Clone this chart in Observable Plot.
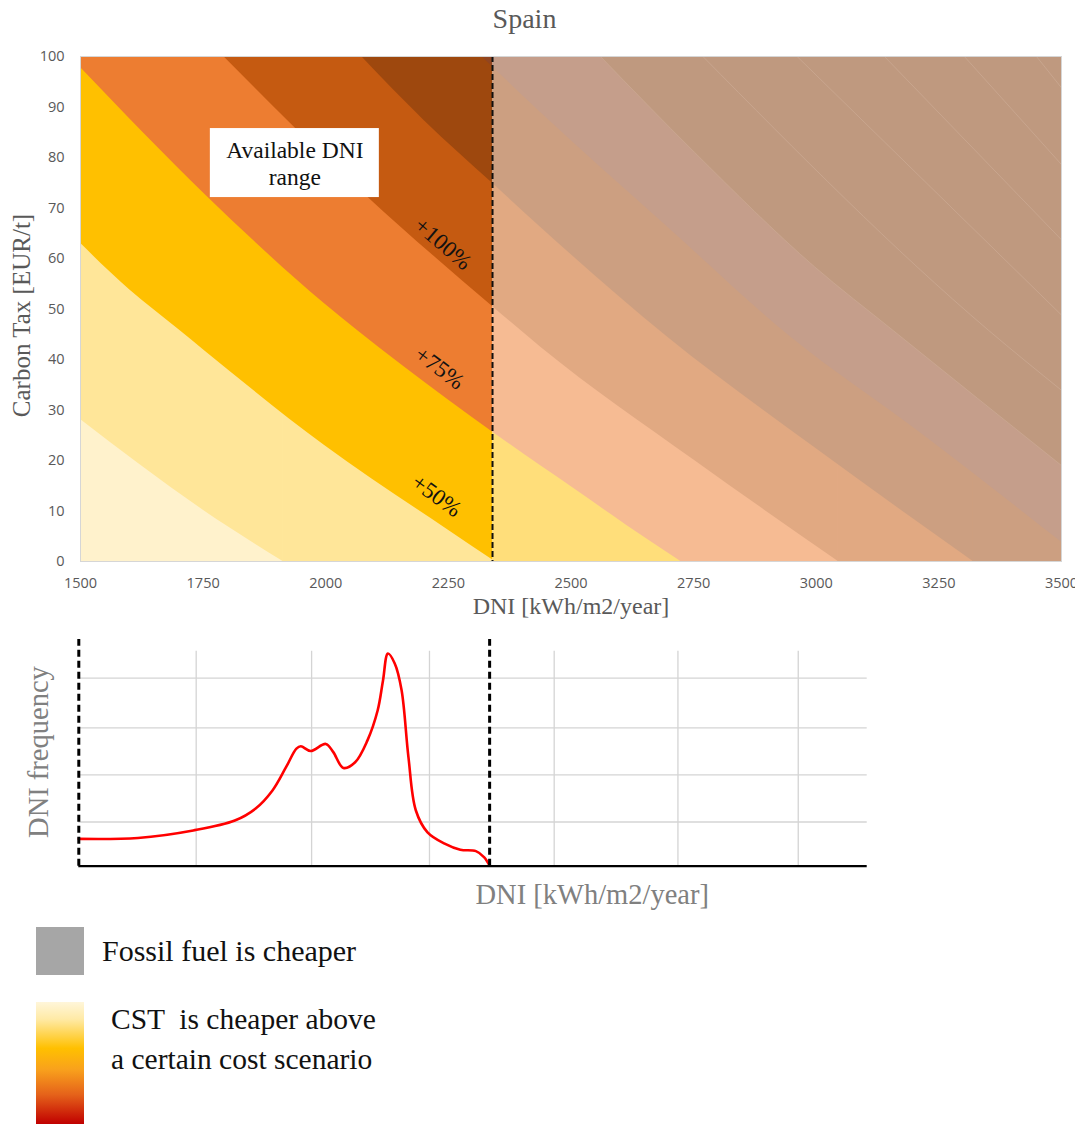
<!DOCTYPE html>
<html>
<head>
<meta charset="utf-8">
<script src="https://cdn.jsdelivr.net/npm/d3@7"></script>
<script src="https://cdn.jsdelivr.net/npm/@observablehq/plot@0.6"></script>
<style>
  body { margin: 0; background: #fff; }
  #wrap { position: relative; width: 1075px; height: 1124px; overflow: hidden; }
  #top { position: absolute; left: 0; top: 0; }
  #bottom { position: absolute; left: 0; top: 620px; }
  .leg { position: absolute; font-family: "Liberation Serif", "Times New Roman", serif; color: #111; white-space: pre; line-height: 1; }
</style>
</head>
<body>
<div id="wrap">
  <div id="top"></div>
  <div id="bottom"></div>
</div>
<script>
// ---------------- DATA ----------------
const chartTitle = "Spain";
const xAxisLabel = "DNI [kWh/m2/year]";
const yAxisLabel = "Carbon Tax [EUR/t]";
const xTicks = [1500, 1750, 2000, 2250, 2500, 2750, 3000, 3250, 3500];
const yTicks = [0, 10, 20, 30, 40, 50, 60, 70, 80, 90, 100];
const availableDNIMax = 2340;   // upper end of the available DNI range in Spain
const availableLabel = "Available DNI\nrange";
const availableLabelAt = [1937, 78.9];

// iso-lines [DNI, carbon tax] separating cost-scenario bands (lower-left to upper-right)
const level1 = [[1500, 28.1], [1618, 19.4], [1751, 10.1], [1913, 0]];
const level2 = [[1500, 63], [1600, 53.8], [1702, 45.8], [1751, 41.9], [1997, 23], [2250, 6.2], [2345, 0]];
const level3 = [[1500, 97.8], [1758, 72.3], [1997, 51.1], [2064, 45.8], [2250, 32.0], [2342, 25.5], [2439, 18.9], [2508, 14.3], [2613, 7.2], [2724, 0]];
const level4 = [[1792, 100], [1934, 86.2], [2082, 72.5], [2340, 50.5], [2439, 42.4], [2752, 20.0], [3045, 0]];
const level5 = [[2073, 100], [2201, 87.3], [2340, 74.9], [2439, 66.1], [2696, 44.5], [2996, 22.6], [3320, 0]];
const level6 = [[2318, 100], [2439, 88.8], [2696, 66.3], [2947, 44.5], [3205, 26], [3500, 3.8]];
const level7 = [[2560, 100], [2752, 81], [2996, 58.4], [3156, 45.8], [3500, 19]];
const level8 = [[2769, 100], [3351, 45.8], [3500, 33.9]];
const level9 = [[2961, 100], [3500, 48.8]];
const level10 = [[3139, 100], [3500, 63.7]];
const level11 = [[3302, 100], [3500, 78.6]];
const level12 = [[3449, 100], [3500, 93.8]];

const scenarioLabels = ["+100%", "+75%", "+50%"];
const scenarioDNI = [2239, 2232, 2226];
const scenarioTax = [62.9, 38.3, 13.0];

// DNI frequency distribution (relative units)
const freqAxisLabel = "DNI frequency";
const freqDNI = [1500, 1621, 1734, 1819, 1861, 1896, 1924, 1945, 1954, 1974, 2005, 2020, 2041, 2065, 2090, 2111, 2122, 2132, 2146, 2160, 2174, 2189, 2213, 2248, 2280, 2312, 2329, 2340];
const freqValue = [0.58, 0.60, 0.76, 0.97, 1.22, 1.61, 2.11, 2.50, 2.55, 2.45, 2.60, 2.43, 2.09, 2.21, 2.67, 3.31, 3.95, 4.52, 4.31, 3.74, 2.32, 1.19, 0.72, 0.48, 0.35, 0.32, 0.19, 0.01];
const freqGridX = [1740, 1976, 2217, 2472, 2725, 2971];
const freqGridY = [0.94, 1.94, 2.94, 4.0];
const freqDomainX = [1500, 3112];
const freqDomainY = [0, 4.82];

const legendItems = ["Fossil fuel is cheaper", "CST  is cheaper above\na certain cost scenario"];

// ---------------- BUILD ----------------
const SERIF = "'Liberation Serif', 'Times New Roman', serif";
const X_MAX = xTicks[xTicks.length - 1];
const levels = [level1, level2, level3, level4, level5, level6, level7, level8, level9, level10, level11, level12];
const bandFills = ["#FFE699", "#FFC000", "#ED7D31", "#C55A11", "#9E480E", "#914521", "#853D0B", "#853D0B", "#853D0B", "#853D0B", "#853D0B", "#853D0B"];
const toRows = (arr) => arr.map(([dni, tax]) => ({dni, tax}));

const bandMarks = [];
levels.forEach((lv, i) => {
  bandMarks.push(Plot.areaY(toRows(lv), {x: "dni", y1: "tax", y2: 100, fill: bandFills[i], curve: "monotone-x", clip: true}));
  const last = lv[lv.length - 1];
  if (last[1] === 0 && last[0] < X_MAX) {
    // the band covers everything to the right of where its iso-line meets the x-axis
    bandMarks.push(Plot.rect([{x1: last[0] - 1, x2: X_MAX}], {x1: "x1", x2: "x2", y1: 0, y2: 100, fill: bandFills[i], clip: true}));
  }
});
const seamMarks = levels.slice(6).map(lv =>
  Plot.line(toRows(lv), {x: "dni", y: "tax", stroke: "#CAA892", strokeWidth: 0.8, curve: "monotone-x", clip: true})
);

const labelRows = scenarioLabels.map((t, i) => ({t, dni: scenarioDNI[i], tax: scenarioTax[i]}));
const labelRot = [40.5, 37, 36];

function boxMark(w, h) {
  return (index, scales) => {
    const cx = scales.x(availableLabelAt[0]), cy = scales.y(availableLabelAt[1]);
    return d3.create("svg:rect")
      .attr("x", cx - w / 2).attr("y", cy - h / 2)
      .attr("width", w).attr("height", h)
      .attr("fill", "white").node();
  };
}

const topPlot = Plot.plot({
  width: 1075,
  height: 625,
  marginLeft: 80,
  marginRight: 14,
  marginTop: 56,
  marginBottom: 64,
  style: {fontFamily: "'Open Sans', sans-serif", fontSize: "14.5px", color: "#595959", background: "white", overflow: "visible"},
  x: {domain: [1500, X_MAX], ticks: xTicks, tickFormat: d => String(d), tickSize: 0, tickPadding: 16, label: null},
  y: {domain: [0, 100], ticks: yTicks, tickFormat: d => String(d), tickSize: 0, tickPadding: 16, label: null},
  marks: [
    Plot.frame({fill: "#FFF2CC"}),
    ...bandMarks,
    Plot.rect([{x1: availableDNIMax, x2: X_MAX}], {x1: "x1", x2: "x2", y1: 0, y2: 100, fill: "white", fillOpacity: 0.48}),
    ...seamMarks,
    Plot.ruleX([availableDNIMax], {stroke: "#111", strokeWidth: 2, strokeDasharray: "6,3"}),
    boxMark(169, 69),
    Plot.text([availableLabel], {x: () => availableLabelAt[0], y: () => availableLabelAt[1], text: d => d, fontFamily: SERIF, fontSize: 23.5, lineHeight: 1.14, fill: "#111"}),
    Plot.text(labelRows, {x: "dni", y: "tax", text: "t", rotate: (d, i) => labelRot[i], fontFamily: SERIF, fontSize: 23, fill: "#111"}),
    Plot.frame({stroke: "#D6D6D6"}),
    Plot.text([chartTitle], {frameAnchor: "top", textAnchor: "middle", lineAnchor: "middle", text: d => d, dx: -46.5, dy: -37, fontFamily: SERIF, fontSize: 28, fill: "#595959"}),
    Plot.text([xAxisLabel], {frameAnchor: "bottom", textAnchor: "middle", lineAnchor: "middle", text: d => d, dy: 45.3, fontFamily: SERIF, fontSize: 24, fill: "#595959"}),
    Plot.text([yAxisLabel], {frameAnchor: "left", textAnchor: "middle", lineAnchor: "middle", text: d => d, dx: -58.3, dy: 6.5, rotate: -90, fontFamily: SERIF, fontSize: 25, fill: "#595959"})
  ]
});
document.getElementById("top").appendChild(topPlot);

const freqRows = freqDNI.map((dni, i) => ({dni, f: freqValue[i]}));
const bottomPlot = Plot.plot({
  width: 1075,
  height: 300,
  marginLeft: 78.3,
  marginRight: 208.3,
  marginTop: 19,
  marginBottom: 54.3,
  style: {fontFamily: SERIF, background: "transparent", overflow: "visible"},
  x: {domain: freqDomainX, axis: null},
  y: {domain: freqDomainY, axis: null},
  marks: [
    Plot.ruleX(freqGridX, {y1: 0, y2: 4.57, stroke: "#D4D4D4", strokeWidth: 1.3}),
    Plot.ruleY(freqGridY, {x1: freqDomainX[0], x2: freqDomainX[1], stroke: "#D4D4D4", strokeWidth: 1.3}),
    Plot.line(freqRows, {x: "dni", y: "f", curve: "catmull-rom", stroke: "#FF0000", strokeWidth: 2.6}),
    Plot.ruleY([0], {x1: freqDomainX[0], x2: freqDomainX[1], stroke: "#000", strokeWidth: 2.2}),
    Plot.ruleX([freqDomainX[0], availableDNIMax], {y1: 0, y2: freqDomainY[1], stroke: "#000", strokeWidth: 3, strokeDasharray: "7,4"}),
    Plot.text([xAxisLabel], {frameAnchor: "bottom", textAnchor: "middle", lineAnchor: "middle", text: d => d, dx: 119.2, dy: 28.2, fontFamily: SERIF, fontSize: 28.5, fill: "#808080"}),
    Plot.text([freqAxisLabel], {frameAnchor: "left", textAnchor: "middle", lineAnchor: "middle", text: d => d, dx: -40, dy: -0.8, rotate: -90, fontFamily: SERIF, fontSize: 28.5, fill: "#808080"})
  ]
});
document.getElementById("bottom").appendChild(bottomPlot);

// ---------------- LEGEND (HTML below the charts) ----------------
const wrap = document.getElementById("wrap");
function addDiv(style, text, cls) {
  const d = document.createElement("div");
  if (cls) d.className = cls;
  d.setAttribute("style", style);
  if (text != null) d.textContent = text;
  wrap.appendChild(d);
  return d;
}
addDiv("position:absolute;left:36px;top:927px;width:48px;height:48px;background:#A6A6A6;");
addDiv("left:102px;top:936px;font-size:30px;", legendItems[0], "leg");
addDiv("position:absolute;left:36px;top:1002px;width:48px;height:122px;background:linear-gradient(to bottom,#FFF6DA 0%,#FFEAA6 14%,#FFC000 38%,#F9A21C 55%,#E5621A 76%,#C00000 100%);");
const lines = legendItems[1].split("\n");
addDiv("left:111px;top:1005px;font-size:29.5px;", lines[0], "leg");
addDiv("left:111px;top:1045px;font-size:29.5px;", lines[1], "leg");
</script>
</body>
</html>
